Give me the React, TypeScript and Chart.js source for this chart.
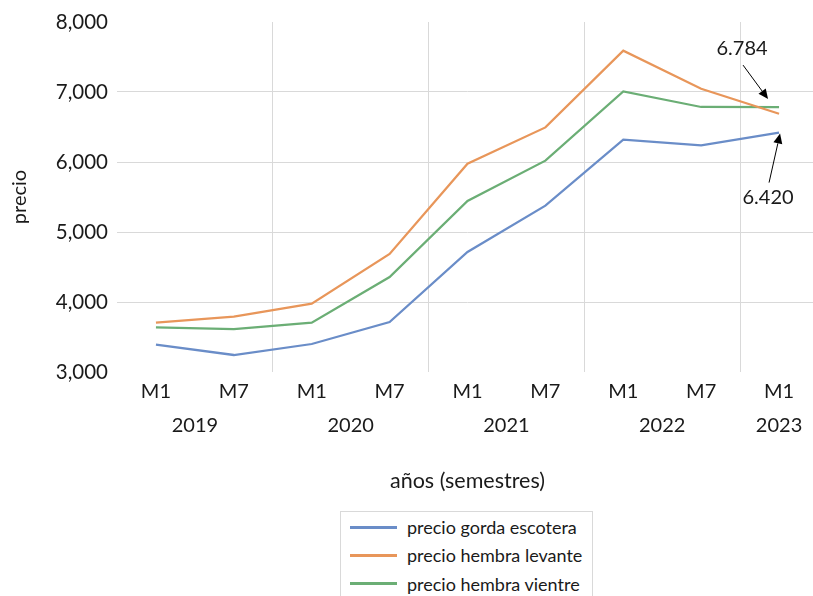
import React, { useEffect, useRef } from "react";
import { Chart, registerables } from "chart.js";

Chart.register(...registerables);

const semesters = ["M1", "M7", "M1", "M7", "M1", "M7", "M1", "M7", "M1"];
const years = ["2019", "2019", "2020", "2020", "2021", "2021", "2022", "2022", "2023"];
const gordaEscotera = [3390, 3243, 3400, 3714, 4714, 5376, 6319, 6237, 6420];
const hembraLevante = [3704, 3790, 3976, 4686, 5976, 6494, 7590, 7047, 6690];
const hembraVientre = [3637, 3614, 3704, 4357, 5443, 6019, 7009, 6786, 6784];
const seriesNames = ["precio gorda escotera", "precio hembra levante", "precio hembra vientre"];
const seriesColors = ["#6A8DC8", "#E8965A", "#6BAE75"];
const annotations = [
  { series: 2, index: 8, text: "6.784", tip: [-11, -8], tail: [-36, -42], label: [-37, -59] },
  { series: 0, index: 8, text: "6.420", tip: [1, 1], tail: [-10, 50], label: [-11, 65] },
];

const FONT = "Lato, 'Open Sans', sans-serif";

const yearLabelsPlugin = {
  id: "yearLabels",
  afterDraw(chart: any) {
    const x = chart.scales.x;
    const ctx = chart.ctx;
    ctx.save();
    ctx.font = `20px ${FONT}`;
    ctx.fillStyle = "#1a1a1a";
    ctx.textAlign = "center";
    ctx.textBaseline = "middle";
    const groups: { year: string; first: number; last: number }[] = [];
    years.forEach((y, i) => {
      const g = groups[groups.length - 1];
      if (g && g.year === y) g.last = i;
      else groups.push({ year: y, first: i, last: i });
    });
    groups.forEach((g) => {
      const px = (x.getPixelForValue(g.first) + x.getPixelForValue(g.last)) / 2;
      ctx.fillText(g.year, px, chart.chartArea.bottom + 54);
    });
    ctx.restore();
  },
};

const annotationPlugin = {
  id: "arrowAnnotations",
  afterDatasetsDraw(chart: any) {
    const ctx = chart.ctx;
    ctx.save();
    annotations.forEach((a) => {
      const pt = chart.getDatasetMeta(a.series).data[a.index];
      const tx = pt.x + a.tip[0];
      const ty = pt.y + a.tip[1];
      const sx = pt.x + a.tail[0];
      const sy = pt.y + a.tail[1];
      ctx.strokeStyle = "#000";
      ctx.fillStyle = "#000";
      ctx.lineWidth = 1;
      const ang = Math.atan2(ty - sy, tx - sx);
      const hl = 10;
      const hw = 4.5;
      const bx = tx - hl * Math.cos(ang);
      const by = ty - hl * Math.sin(ang);
      ctx.beginPath();
      ctx.moveTo(sx, sy);
      ctx.lineTo(bx, by);
      ctx.stroke();
      ctx.beginPath();
      ctx.moveTo(tx, ty);
      ctx.lineTo(bx + hw * Math.sin(ang), by - hw * Math.cos(ang));
      ctx.lineTo(bx - hw * Math.sin(ang), by + hw * Math.cos(ang));
      ctx.closePath();
      ctx.fill();
      ctx.font = `20px ${FONT}`;
      ctx.fillStyle = "#1a1a1a";
      ctx.textAlign = "center";
      ctx.textBaseline = "middle";
      ctx.fillText(a.text, pt.x + a.label[0], pt.y + a.label[1]);
    });
    ctx.restore();
  },
};

export default function App() {
  const ref = useRef<HTMLCanvasElement>(null);
  useEffect(() => {
    if (!ref.current) return;
    const data = [gordaEscotera, hembraLevante, hembraVientre];
    const chart = new Chart(ref.current, {
      type: "line",
      data: {
        labels: semesters,
        datasets: data.map((d, i) => ({
          label: seriesNames[i],
          data: d,
          borderColor: seriesColors[i],
          backgroundColor: seriesColors[i],
          borderWidth: 2.25,
          pointRadius: 0,
          tension: 0,
        })),
      },
      options: {
        responsive: false,
        animation: false,
        devicePixelRatio: 1,
        layout: { padding: { top: 22, right: 2, bottom: 0, left: 0 } },
        plugins: { legend: { display: false }, tooltip: { enabled: false } },
        scales: {
          x: {
            type: "category",
            offset: true,
            grid: {
              offset: true,
              drawTicks: false,
              color: (c: any) => (c.index > 0 && c.index % 2 === 0 ? "#D9D9D9" : "rgba(0,0,0,0)"),
              lineWidth: 1,
            },
            border: { display: false },
            ticks: {
              font: { family: FONT, size: 20 },
              color: "#1a1a1a",
              padding: 8,
              maxRotation: 0,
              autoSkip: false,
            },
            title: {
              display: true,
              text: "años (semestres)",
              font: { family: FONT, size: 21.5 },
              color: "#1a1a1a",
              padding: { top: 0, bottom: 6 },
            },
            afterFit: (s: any) => {
              s.height = 128;
            },
          },
          y: {
            min: 3000,
            max: 8000,
            grid: {
              drawTicks: false,
              color: (c: any) =>
                c.tick && (c.tick.value === 3000 || c.tick.value === 8000) ? "rgba(0,0,0,0)" : "#D9D9D9",
              lineWidth: 1,
            },
            border: { display: false },
            ticks: {
              stepSize: 1000,
              font: { family: FONT, size: 20.5 },
              color: "#1a1a1a",
              padding: 9,
              callback: (v: any) => Number(v).toLocaleString("en-US"),
            },
            title: {
              display: true,
              text: "precio",
              font: { family: FONT, size: 20 },
              color: "#1a1a1a",
              padding: { top: 8, bottom: 0 },
            },
            afterFit: (s: any) => {
              s.width = 117;
            },
          },
        },
      },
      plugins: [yearLabelsPlugin, annotationPlugin],
    });
    return () => chart.destroy();
  }, []);

  return (
    <div
      style={{
        position: "fixed",
        left: 0,
        top: 0,
        width: 813,
        height: 596,
        overflow: "hidden",
        background: "#fff",
        fontFamily: FONT,
      }}
    >
      <canvas ref={ref} width={820} height={500} style={{ position: "absolute", left: 0, top: 0 }} />
      <div
        style={{
          position: "absolute",
          left: 340,
          top: 511,
          width: 253,
          height: 100,
          border: "1px solid #D9D9D9",
          boxSizing: "border-box",
          paddingTop: 1,
        }}
      >
        {seriesNames.map((n, i) => (
          <div key={n} style={{ display: "flex", alignItems: "center", height: 28.3 }}>
            <div style={{ marginLeft: 9, width: 47, height: 3, background: seriesColors[i] }} />
            <div style={{ marginLeft: 10, fontSize: 18, color: "#1a1a1a", whiteSpace: "nowrap" }}>{n}</div>
          </div>
        ))}
      </div>
    </div>
  );
}
